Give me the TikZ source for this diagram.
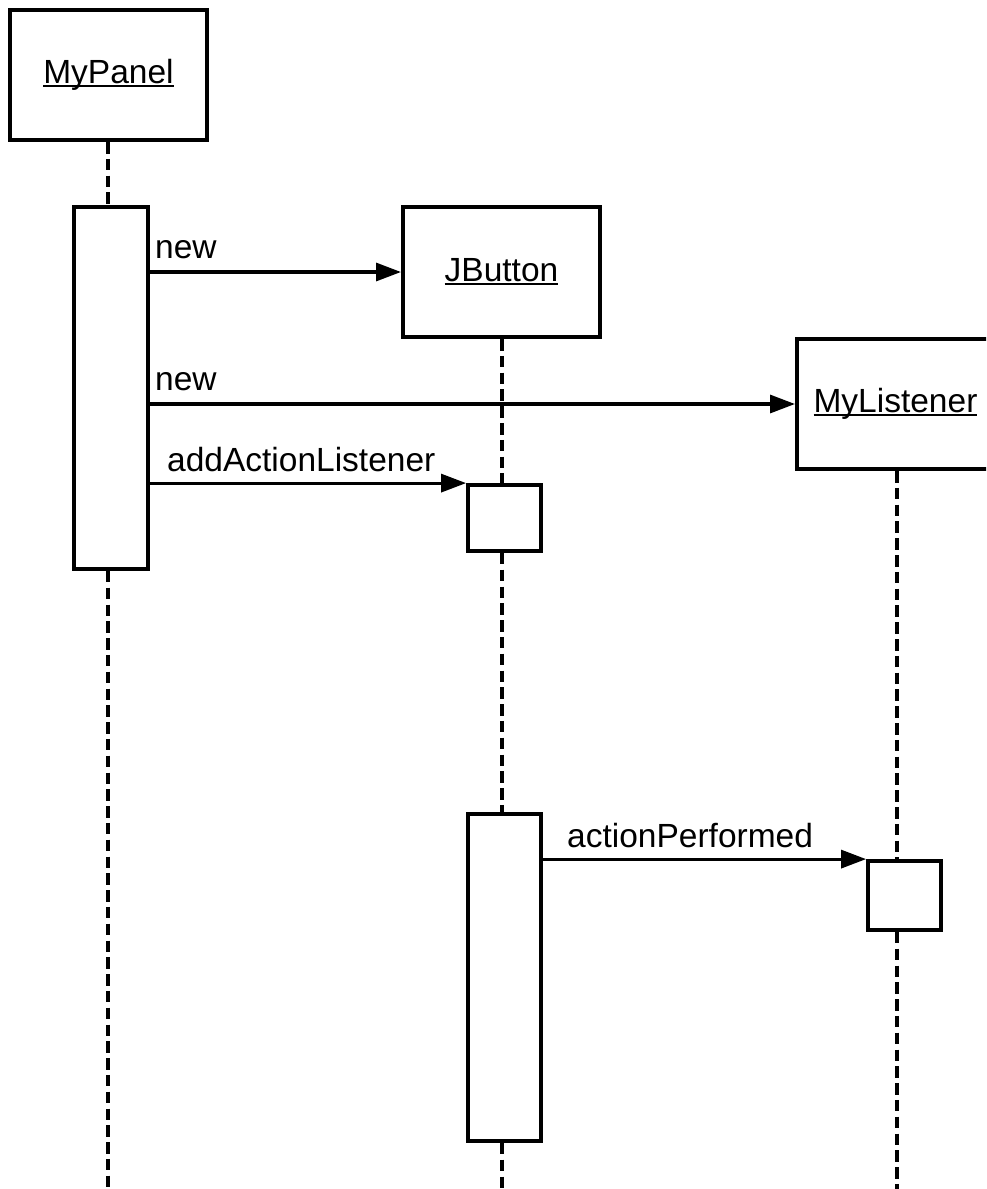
\documentclass[tikz,border=0pt]{standalone}
\usepackage{fontspec}
\setmainfont{Liberation Sans}
\usetikzlibrary{arrows.meta}
\newcommand{\ulname}[1]{\setbox0\hbox{#1}\rlap{\rule[-3.5pt]{\wd0}{2pt}}\box0}
\tikzset{
  objbox/.style={draw, line width=4pt, fill=white, minimum width=197pt, minimum height=130pt, inner sep=0pt},
  actbox/.style={draw, line width=3.8pt, fill=white, inner sep=0pt, minimum width=73pt},
  lifeline/.style={line width=3.5pt, dash pattern=on 11.5pt off 5.3pt},
  msg/.style={line width=3.2pt, -{Triangle[length=25pt,width=18pt]}},
  lbl/.style={anchor=base west, inner sep=0pt},
}
\begin{document}
\begin{tikzpicture}[x=1pt,y=-1pt, font=\fontsize{33.5}{40}\selectfont]
\useasboundingbox (0,0) rectangle (986,1189);
\clip (0,0) rectangle (986,1189);
% objects
\node[objbox] (mp) at (108.5,75) {\ulname{MyPanel}};
\node[objbox] (jb) at (501.5,272) {\ulname{JButton}};
\node[objbox] (ml) at (895.5,404) {\ulname{MyListener}};
% activations
\node[actbox, minimum width=74pt, minimum height=362pt] (pact) at (111,388) {};
\node[actbox, minimum height=66pt] (ja1) at (504.5,518) {};
\node[actbox, minimum height=327pt] (ja2) at (504.5,977.5) {};
\node[actbox, minimum height=69pt] (la) at (904.5,895.5) {};
% end points of lifelines
\coordinate (mpend) at (108,1189);
\coordinate (jbend) at (502,1189);
\coordinate (mlend) at (897,1189);
% lifelines
\draw[lifeline] (mp.south -| mpend) -- (mpend |- pact.north);
\draw[lifeline] (mpend |- pact.south) -- (mpend);
\draw[lifeline] (jb.south -| jbend) -- (jbend |- ja1.north);
\draw[lifeline] (jbend |- ja1.south) -- (jbend |- ja2.north);
\draw[lifeline] (jbend |- ja2.south) -- (jbend);
\draw[lifeline] (ml.south -| mlend) -- (mlend |- la.north);
\draw[lifeline] (mlend |- la.south) -- (mlend);
% messages
\draw[msg] (pact.east |- jb.west) -- (jb.west);
\node[lbl] (l1) at (155,258) {new};
\draw[msg] (pact.east |- ml.west) -- (ml.west);
\node[lbl] (l2) at (155,390) {new};
\draw[msg] (pact.east |- ja1.north west) -- (ja1.north west);
\node[lbl] (l3) at (167,471) {addActionListener};
\draw[msg] (ja2.east |- la.north west) -- (la.north west);
\node[lbl] (l4) at (567,847) {actionPerformed};
\end{tikzpicture}
\end{document}
